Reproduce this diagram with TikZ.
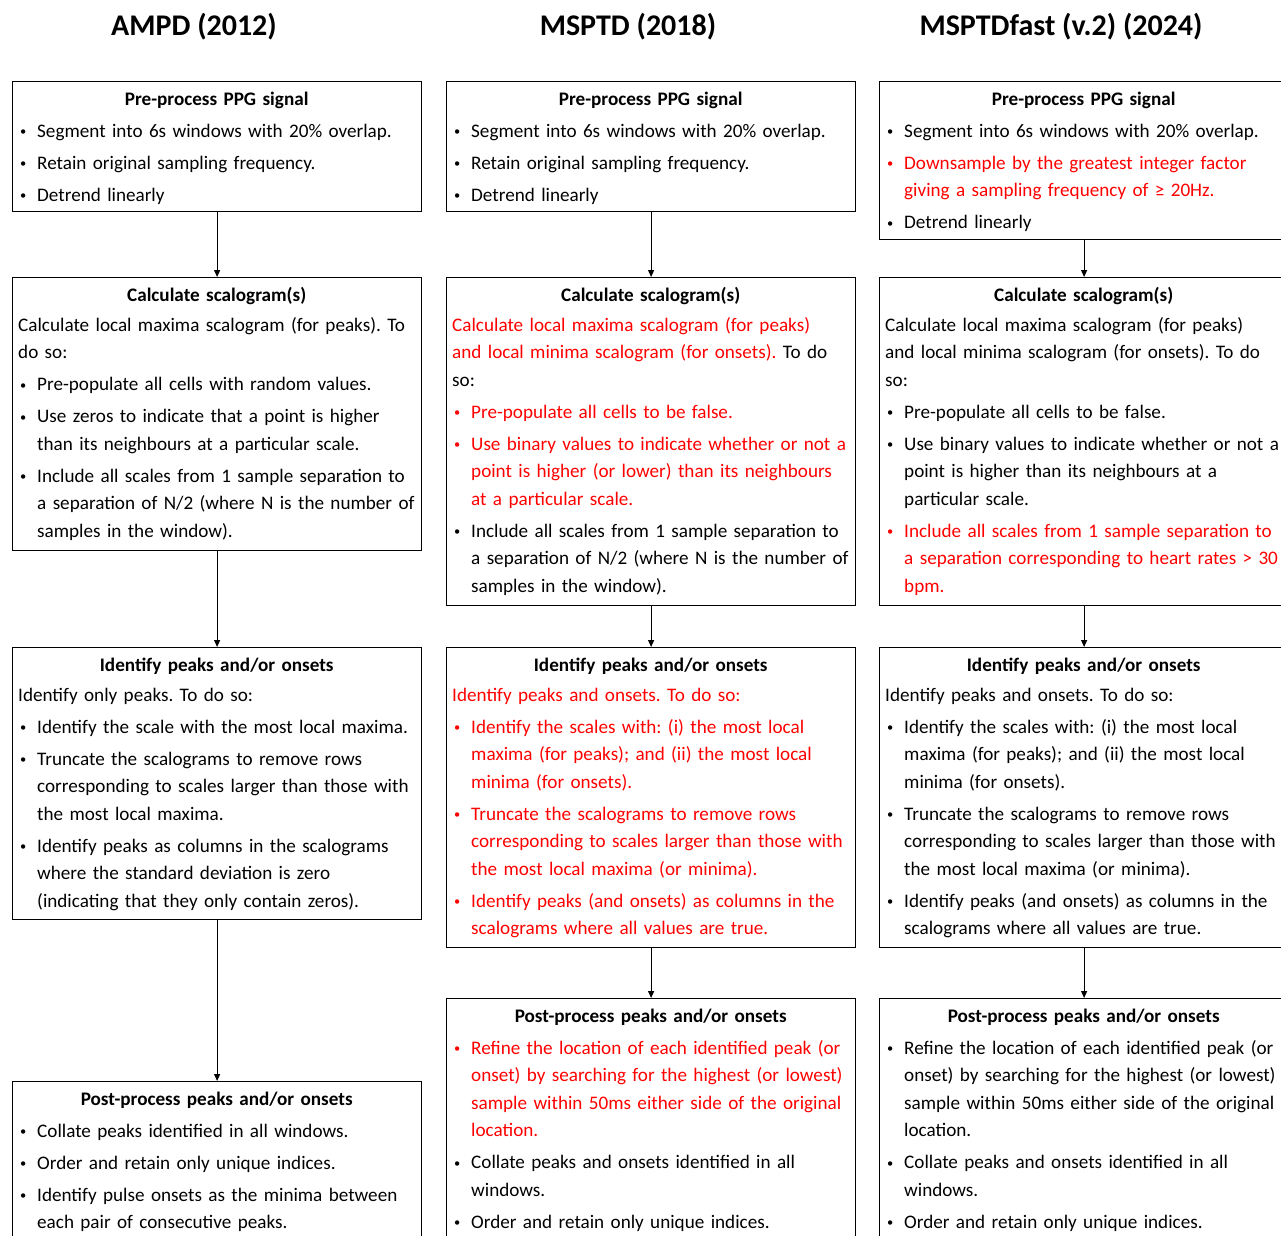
\documentclass[tikz,border=0pt]{standalone}
\usepackage{fontspec}
\setmainfont{Carlito}
\usetikzlibrary{arrows.meta}
\frenchspacing
\newcommand\mybullet{\raisebox{1.5pt}{\scalebox{0.65}{\textbullet}}}
\newcommand\hdr[1]{\noindent\makebox[409pt][c]{\rule{0pt}{24pt}\bfseries #1}\par}
\newcommand\bul[2][black]{\par\vspace{4.5pt}\noindent\hangindent=25pt\hangafter=1{\color{#1}\makebox[25pt][l]{\hspace{8pt}\mybullet}#2}\par}
\newcommand\para[1]{\par\vspace{2.5pt}\noindent\hangindent=6pt\hangafter=0 #1\par}
\tikzset{
  box/.style={draw, line width=1.2pt, anchor=north west, inner sep=0pt, minimum width=409pt},
  txt/.style={anchor=north west, inner sep=0pt, text width=460pt, font=\fontsize{19.15}{27.5}\selectfont},
  ttl/.style={font=\fontsize{30}{34}\selectfont\bfseries, inner sep=0pt},
  arr/.style={line width=1.2pt, -{Triangle[length=7pt,width=6pt]}}
}
\begin{document}
\begin{tikzpicture}[x=1pt,y=-1pt]
\useasboundingbox (0,0) rectangle (1281,1235);
\clip (0,0) rectangle (1281,1235);
\fill[white] (0,0) rectangle (1281,1235);
% titles
\node[ttl] (t1) at (194,27) {AMPD (2012)};
\node[ttl] (t2) at (628,27) {MSPTD (2018)};
\node[ttl] (t3) at (1061,27) {MSPTDfast (v.2) (2024)};
% boxes
\node[box, minimum height=130pt] (a1) at (12,81) {};
\node[box, minimum height=273pt] (a2) at (12,277) {};
\node[box, minimum height=272pt] (a3) at (12,647) {};
\node[box, minimum height=220pt] (a4) at (12,1081) {};
\node[box, minimum height=130pt] (b1) at (446,81) {};
\node[box, minimum height=328pt] (b2) at (446,277) {};
\node[box, minimum height=300pt] (b3) at (446,647) {};
\node[box, minimum height=300pt] (b4) at (446,998) {};
\node[box, minimum height=158pt] (c1) at (879,81) {};
\node[box, minimum height=328pt] (c2) at (879,277) {};
\node[box, minimum height=300pt] (c3) at (879,647) {};
\node[box, minimum height=300pt] (c4) at (879,998) {};
% arrows
\draw[arr] (a1.south) -- (a2.north);
\draw[arr] (a2.south) -- (a3.north);
\draw[arr] (a3.south) -- (a4.north);
\draw[arr] (b1.south) -- (b2.north);
\draw[arr] (b2.south) -- (b3.north);
\draw[arr] (b3.south) -- (b4.north);
\draw[arr] (c1.south) -- (c2.north);
\draw[arr] (c2.south) -- (c3.north);
\draw[arr] (c3.south) -- (c4.north);
% texts column 1
\node[txt] (a1t) at (a1.north west) {\hdr{Pre-process PPG signal}
\bul{Segment into 6s windows with 20\% overlap.}
\bul{Retain original sampling frequency.}
\bul{Detrend linearly}};
\node[txt] (a2t) at (a2.north west) {\hdr{Calculate scalogram(s)}
\para{Calculate local maxima scalogram (for peaks). To\newline do so:}
\bul{Pre-populate all cells with random values.}
\bul{Use zeros to indicate that a point is higher\newline than its neighbours at a particular scale.}
\bul{Include all scales from 1 sample separation to\newline a separation of N/2 (where N is the number of\newline samples in the window).}};
\node[txt] (a3t) at (a3.north west) {\hdr{Identify peaks and/or onsets}
\para{Identify only peaks. To do so:}
\bul{Identify the scale with the most local maxima.}
\bul{Truncate the scalograms to remove rows\newline corresponding to scales larger than those with\newline the most local maxima.}
\bul{Identify peaks as columns in the scalograms\newline where the standard deviation is zero\newline (indicating that they only contain zeros).}};
\node[txt] (a4t) at (a4.north west) {\hdr{Post-process peaks and/or onsets}
\bul{Collate peaks identified in all windows.}
\bul{Order and retain only unique indices.}
\bul{Identify pulse onsets as the minima between\newline each pair of consecutive peaks.}};
% texts column 2
\node[txt] (b1t) at (b1.north west) {\hdr{Pre-process PPG signal}
\bul{Segment into 6s windows with 20\% overlap.}
\bul{Retain original sampling frequency.}
\bul{Detrend linearly}};
\node[txt] (b2t) at (b2.north west) {\hdr{Calculate scalogram(s)}
\para{{\color{red}Calculate local maxima scalogram (for peaks)\newline and local minima scalogram (for onsets).} To do\newline so:}
\bul[red]{Pre-populate all cells to be false.}
\bul[red]{Use binary values to indicate whether or not a\newline point is higher (or lower) than its neighbours\newline at a particular scale.}
\bul{Include all scales from 1 sample separation to\newline a separation of N/2 (where N is the number of\newline samples in the window).}};
\node[txt] (b3t) at (b3.north west) {\hdr{Identify peaks and/or onsets}
\para{\color{red}Identify peaks and onsets. To do so:}
\bul[red]{Identify the scales with: (i) the most local\newline maxima (for peaks); and (ii) the most local\newline minima (for onsets).}
\bul[red]{Truncate the scalograms to remove rows\newline corresponding to scales larger than those with\newline the most local maxima (or minima).}
\bul[red]{Identify peaks (and onsets) as columns in the\newline scalograms where all values are true.}};
\node[txt] (b4t) at (b4.north west) {\hdr{Post-process peaks and/or onsets}
\bul[red]{Refine the location of each identified peak (or\newline onset) by searching for the highest (or lowest)\newline sample within 50ms either side of the original\newline location.}
\bul{Collate peaks and onsets identified in all\newline windows.}
\bul{Order and retain only unique indices.}};
% texts column 3
\node[txt] (c1t) at (c1.north west) {\hdr{Pre-process PPG signal}
\bul{Segment into 6s windows with 20\% overlap.}
\bul[red]{Downsample by the greatest integer factor\newline giving a sampling frequency of ≥ 20Hz.}
\bul{Detrend linearly}};
\node[txt] (c2t) at (c2.north west) {\hdr{Calculate scalogram(s)}
\para{Calculate local maxima scalogram (for peaks)\newline and local minima scalogram (for onsets). To do\newline so:}
\bul{Pre-populate all cells to be false.}
\bul{Use binary values to indicate whether or not a\newline point is higher than its neighbours at a\newline particular scale.}
\bul[red]{Include all scales from 1 sample separation to\newline a separation corresponding to heart rates > 30\newline bpm.}};
\node[txt] (c3t) at (c3.north west) {\hdr{Identify peaks and/or onsets}
\para{Identify peaks and onsets. To do so:}
\bul{Identify the scales with: (i) the most local\newline maxima (for peaks); and (ii) the most local\newline minima (for onsets).}
\bul{Truncate the scalograms to remove rows\newline corresponding to scales larger than those with\newline the most local maxima (or minima).}
\bul{Identify peaks (and onsets) as columns in the\newline scalograms where all values are true.}};
\node[txt] (c4t) at (c4.north west) {\hdr{Post-process peaks and/or onsets}
\bul{Refine the location of each identified peak (or\newline onset) by searching for the highest (or lowest)\newline sample within 50ms either side of the original\newline location.}
\bul{Collate peaks and onsets identified in all\newline windows.}
\bul{Order and retain only unique indices.}};
\end{tikzpicture}
\end{document}
